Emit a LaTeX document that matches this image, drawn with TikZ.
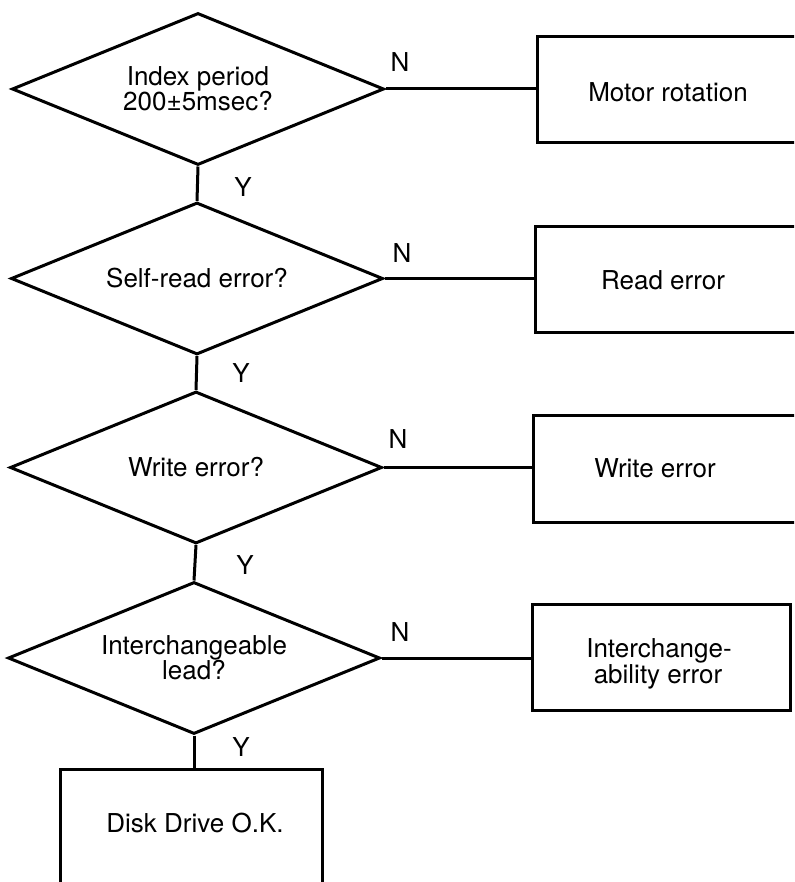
\documentclass[tikz,border=0pt]{standalone}
\usepackage{fontspec}
\setmainfont{TeX Gyre Heros}
\usetikzlibrary{shapes.geometric}
\begin{document}
\begin{tikzpicture}[x=1pt,y=-1pt,line width=3pt,
  every node/.style={font=\fontsize{26}{25}\selectfont},
  decision/.style={diamond,draw,aspect=2.45,inner sep=0pt,minimum width=372pt,minimum height=152pt,align=center},
  outbox/.style={rectangle,draw,inner sep=0pt},
  lbl/.style={inner sep=0pt},
  link/.style={line cap=butt}]
\useasboundingbox (0,0) rectangle (794,882);
\clip (0,0) rectangle (794,882);
% decisions
\node[decision] (d1) at (198,89) {Index period\\200±5msec?};
\node[decision] (d2) at (197,278.5) {Self-read error?};
\node[decision] (d3) at (196,467.5) {Write error?};
\node[decision] (d4) at (194,658) {Interchangeable\\lead?};
% boxes
\node[outbox,minimum width=263pt,minimum height=106pt] (b1) at (668.5,90) {};
\node[outbox,minimum width=265pt,minimum height=105pt] (b2) at (667.5,279.5) {};
\node[outbox,minimum width=267pt,minimum height=107pt] (b3) at (666.5,468.5) {};
\node[outbox,minimum width=258pt,minimum height=106pt] (b4) at (661,657) {};
\node[outbox,minimum width=262pt,minimum height=136pt] (b5) at (191,837) {};
% box texts
\node[lbl,anchor=base] (t1) at (668,102) {Motor rotation};
\node[lbl,anchor=base] (t2) at (663,289) {Read error};
\node[lbl,anchor=base] (t3) at (655,477) {Write error};
\node[lbl,anchor=base] (t4a) at (659,657) {Interchange-};
\node[lbl,anchor=base] (t4b) at (658,683) {ability error};
\node[lbl,anchor=base] (t5) at (195,832) {Disk Drive O.K.};
% connectors
\draw[link] (d1.south) -- (d2.north);
\draw[link] (d2.south) -- (d3.north);
\draw[link] (d3.south) -- (d4.north);
\draw[link] (d4.south) -- (d4.south |- b5.north);
\draw[link] (d1.east) -- (d1.east -| b1.west);
\draw[link] (d2.east) -- (d2.east -| b2.west);
\draw[link] (d3.east) -- (d3.east -| b3.west);
\draw[link] (d4.east) -- (d4.east -| b4.west);
% labels
\node[lbl] (y1) at (243,187) {Y};
\node[lbl] (y2) at (241,373) {Y};
\node[lbl] (y3) at (245,565) {Y};
\node[lbl] (y4) at (241,747) {Y};
\node[lbl] (n1) at (400,62) {N};
\node[lbl] (n2) at (402,253) {N};
\node[lbl] (n3) at (398,439) {N};
\node[lbl] (n4) at (400,632) {N};
\end{tikzpicture}
\end{document}
